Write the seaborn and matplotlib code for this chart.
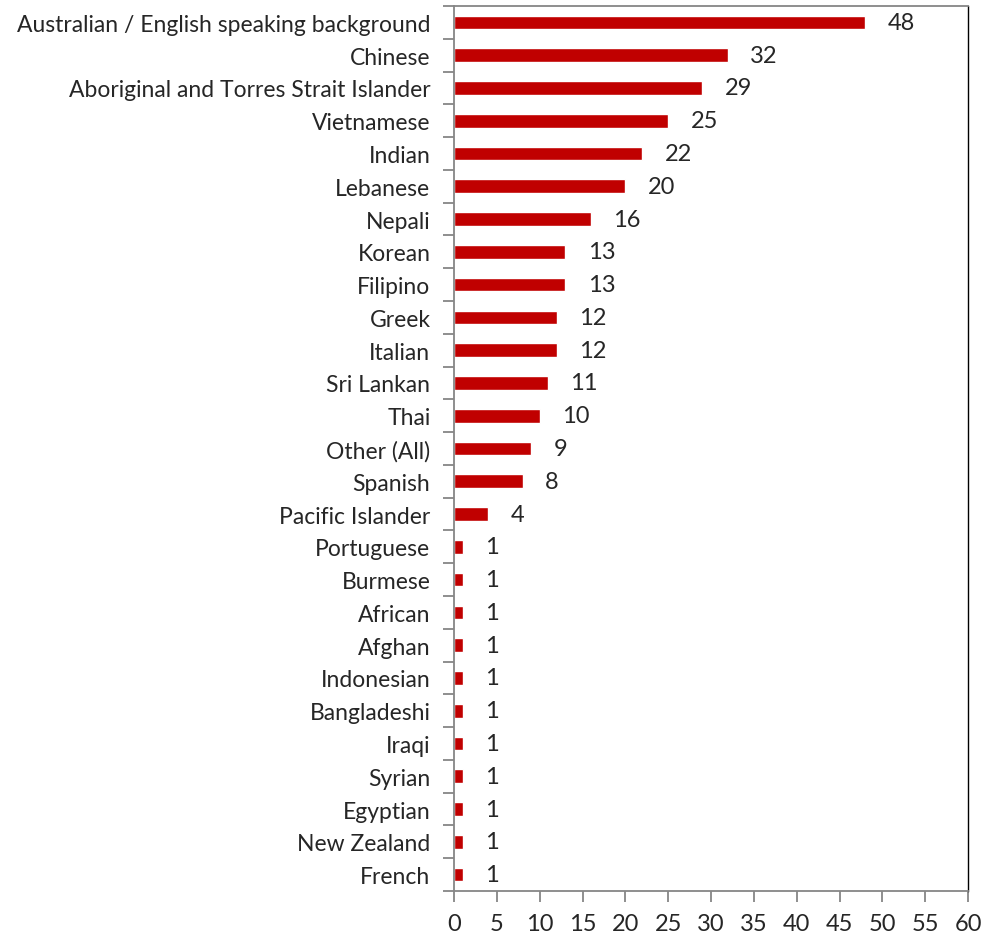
import matplotlib
matplotlib.use("Agg")
import matplotlib.pyplot as plt
import seaborn as sns
import pandas as pd
import numpy as np

categories = ["Australian / English speaking background", "Chinese",
              "Aboriginal and Torres Strait Islander", "Vietnamese", "Indian",
              "Lebanese", "Nepali", "Korean", "Filipino", "Greek", "Italian",
              "Sri Lankan", "Thai", "Other (All)", "Spanish", "Pacific Islander",
              "Portuguese", "Burmese", "African", "Afghan", "Indonesian",
              "Bangladeshi", "Iraqi", "Syrian", "Egyptian", "New Zealand", "French"]
values = [48, 32, 29, 25, 22, 20, 16, 13, 13, 12, 12, 11, 10, 9, 8, 4,
          1, 1, 1, 1, 1, 1, 1, 1, 1, 1, 1]
x_ticks = list(range(0, 61, 5))

df = pd.DataFrame({"category": categories, "value": values})

sns.set_style("white")
plt.rcParams["font.family"] = ["Lato", "DejaVu Sans"]

fig = plt.figure(figsize=(9.9, 9.37), dpi=100)
ax = fig.add_axes([454/990, 1-892/937, (968-454)/990, (892-7)/937])
sns.barplot(data=df, x="value", y="category", orient="h", color="#C00000",
            width=0.42, saturation=1, ax=ax)

ax.set_xlim(0, 60)
ax.set_ylim(len(categories)-0.5, -0.5)
ax.set_xticks(x_ticks)
ax.set_xticklabels([str(t) for t in x_ticks])
ax.set_xlabel("")
ax.set_ylabel("")
ax.tick_params(axis="y", which="major", left=False, length=0, labelsize=16.5, pad=17)
ax.set_yticks(np.arange(-0.5, len(categories), 1), minor=True)
ax.tick_params(axis="y", which="minor", left=True, length=8, color="#868686", width=1.3)
ax.tick_params(axis="x", which="major", bottom=True, length=8, color="#868686",
               width=1.3, labelsize=17, pad=8)

for side in ["left", "bottom", "top"]:
    ax.spines[side].set_color("#868686")
    ax.spines[side].set_linewidth(1.3)
ax.spines["right"].set_color("black")
ax.spines["right"].set_linewidth(1.0)

for cont in ax.containers:
    ax.bar_label(cont, labels=[str(v) for v in values], padding=16, fontsize=17)

fig.savefig("out.png", dpi=100)
